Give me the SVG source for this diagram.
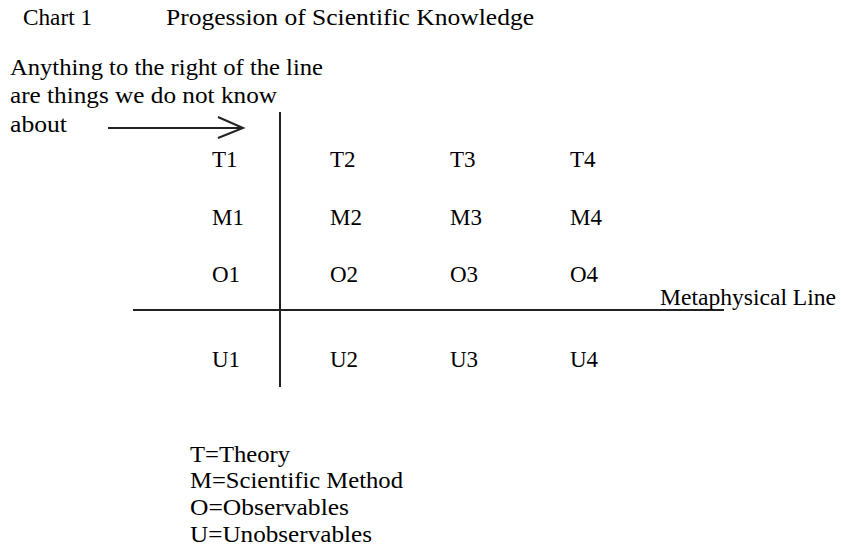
<svg xmlns="http://www.w3.org/2000/svg" width="841" height="550" viewBox="0 0 841 550">
<style>
text{font-family:"Liberation Serif","Times New Roman",serif;font-size:23px;fill:#000}
.ln{stroke:#222;stroke-width:2;fill:none}
</style>
<rect width="841" height="550" fill="#fff"/>
<g id="title">
<text x="23" y="25" textLength="69" lengthAdjust="spacingAndGlyphs">Chart 1</text>
<text x="166" y="25" textLength="368" lengthAdjust="spacingAndGlyphs">Progession of Scientific Knowledge</text>
</g>
<g id="note">
<text x="10" y="75" textLength="313" lengthAdjust="spacingAndGlyphs">Anything to the right of the line</text>
<text x="10" y="103" textLength="267" lengthAdjust="spacingAndGlyphs">are things we do not know</text>
<text x="10" y="132" textLength="57" lengthAdjust="spacingAndGlyphs">about</text>
</g>
<g id="connectors">
<line class="ln" x1="108" y1="128" x2="243" y2="128"/>
<polyline class="ln" points="218,117 243,128 218,138"/>
<line class="ln" x1="280" y1="112" x2="280" y2="387"/>
<line class="ln" x1="133" y1="310" x2="724" y2="310"/>
</g>
<g id="row-T">
<text x="212" y="167">T1</text><text x="330" y="167">T2</text><text x="450" y="167">T3</text><text x="570" y="167">T4</text>
</g>
<g id="row-M">
<text x="212" y="225">M1</text><text x="330" y="225">M2</text><text x="450" y="225">M3</text><text x="570" y="225">M4</text>
</g>
<g id="row-O">
<text x="212" y="282">O1</text><text x="330" y="282">O2</text><text x="450" y="282">O3</text><text x="570" y="282">O4</text>
</g>
<g id="row-U">
<text x="212" y="367">U1</text><text x="330" y="367">U2</text><text x="450" y="367">U3</text><text x="570" y="367">U4</text>
</g>
<g id="metaphysical-label">
<text x="660" y="305" textLength="176" lengthAdjust="spacingAndGlyphs">Metaphysical Line</text>
</g>
<g id="legend">
<text x="190" y="462" textLength="100" lengthAdjust="spacingAndGlyphs">T=Theory</text>
<text x="190" y="488" textLength="213" lengthAdjust="spacingAndGlyphs">M=Scientific Method</text>
<text x="190" y="515" textLength="159" lengthAdjust="spacingAndGlyphs">O=Observables</text>
<text x="190" y="542" textLength="182" lengthAdjust="spacingAndGlyphs">U=Unobservables</text>
</g>
</svg>
